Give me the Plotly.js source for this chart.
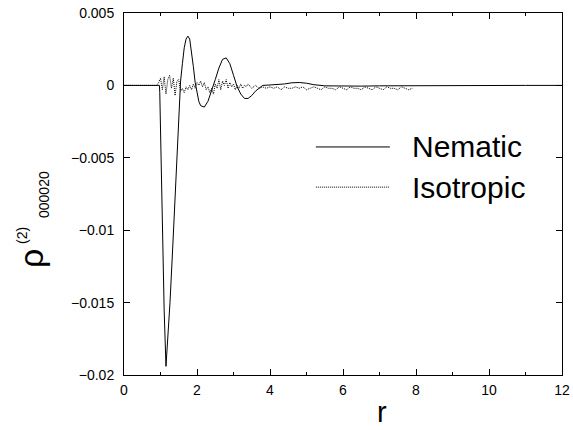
<!DOCTYPE html>
<html>
<head>
<meta charset="utf-8">
<script src="https://cdn.plot.ly/plotly-3.0.1.min.js"></script>
<style>
html,body{margin:0;padding:0;background:#fff;}
#chart{width:573px;height:430px;}
</style>
</head>
<body>
<div id="chart"></div>
<script>
// Nematic: r and rho^(2)_000020
const nematicR = [0, 0.5, 0.9, 0.95, 0.97, 0.98, 1.0, 1.05, 1.1, 1.15, 1.2, 1.26, 1.35, 1.45, 1.52, 1.55, 1.6, 1.65, 1.7, 1.75, 1.8, 1.85, 1.9, 1.95, 2.0, 2.05, 2.1, 2.2, 2.3, 2.4, 2.5, 2.6, 2.7, 2.8, 2.9, 3.0, 3.1, 3.2, 3.3, 3.4, 3.5, 3.6, 3.7, 3.8, 4.0, 4.2, 4.4, 4.6, 4.8, 5.0, 5.2, 5.5, 6.0, 6.5, 7.0, 8.0, 9.0, 10.0, 11.0, 12.0];
const nematicV = [0, 0, 0, 0, 0, -0.0005, -0.003, -0.0104, -0.0155, -0.0194, -0.0175, -0.015, -0.0104, -0.0045, -0.0012, 0.0003, 0.0015, 0.0026, 0.0032, 0.0034, 0.0032, 0.0024, 0.0013, 0.0002, -0.0006, -0.0011, -0.0014, -0.0015, -0.0011, -0.0004, 0.0004, 0.0012, 0.0018, 0.0019, 0.0015, 0.0007, -0.0001, -0.0006, -0.0009, -0.0009, -0.0007, -0.0004, -0.0002, 0.0, 0.00003, 0.00005, 0.0001, 0.00018, 0.0002, 0.00015, 0.00005, -0.00003, -0.00006, -0.00005, -0.00003, -0.00001, 0, 0, 0, 0];

// Isotropic
const isoR = [0, 0.5, 0.9, 0.95, 1.0, 1.05, 1.1, 1.15, 1.2, 1.25, 1.3, 1.35, 1.4, 1.45, 1.5, 1.55, 1.6, 1.65, 1.7, 1.75, 1.8, 1.85, 1.9, 1.95, 2.0, 2.05, 2.1, 2.15, 2.2, 2.25, 2.3, 2.35, 2.4, 2.45, 2.5, 2.55, 2.6, 2.65, 2.7, 2.75, 2.8, 2.85, 2.9, 2.95, 3.0, 3.05, 3.1, 3.15, 3.2, 3.25, 3.3, 3.35, 3.4, 3.5, 3.6, 3.7, 3.8, 3.9, 4.0, 4.1, 4.2, 4.3, 4.4, 4.5, 4.6, 4.7, 4.8, 4.9, 5.0, 5.1, 5.2, 5.3, 5.4, 5.5, 5.6, 5.7, 5.8, 5.9, 6.0, 6.1, 6.2, 6.3, 6.4, 6.5, 6.6, 6.7, 6.8, 6.9, 7.0, 7.1, 7.2, 7.3, 7.4, 7.5, 7.6, 7.7, 7.8, 7.9];
const isoV = [0, 0, 0, 0.0002, 0.0005, -0.0003, 0.0006, -0.0006, 0.0004, 0.0007, -0.0002, 0.0005, -0.0007, 0.0003, 0.0004, -0.0004, -0.0002, -0.0005, -0.0001, -0.0003, 0.0, -0.0003, 0.0001, -0.0002, 0.0002, 0.0, 0.0003, -0.0001, 0.0002, -0.0003, -0.0001, -0.0005, -0.0002, -0.0006, 0.0001, -0.0002, 0.0004, -0.0003, 0.0003, 0.0, 0.0004, -0.0002, 0.0002, -0.0001, 0.0001, -0.0003, 0.0, -0.0002, 0.0001, -0.0002, 0.0, -0.0001, 0.0001, -0.0002, 0.0, -0.0002, -0.0001, -0.0002, -0.0001, -0.0002, -0.0001, -0.0003, -0.0001, -0.0002, -0.0002, -0.0001, -0.0002, -0.0001, -0.0003, -0.0002, -0.0001, -0.0002, -0.0003, -0.0001, -0.0002, -0.0002, -0.0003, -0.0001, -0.0002, -0.0003, -0.0001, -0.0002, -0.0002, -0.0003, -0.0001, -0.0002, -0.0003, -0.0001, -0.0002, -0.0003, -0.0001, -0.0002, -0.0002, -0.0003, -0.0001, -0.0002, -0.0003, -0.0002];

const seriesNames = ['Nematic', 'Isotropic'];
const xLabel = 'r';

const FONT = 'Liberation Sans, Arial, Helvetica, sans-serif';

const traces = [
  {x: nematicR, y: nematicV, name: seriesNames[0], type: 'scatter', mode: 'lines',
   line: {color: '#000', width: 1}, showlegend: false},
  {x: isoR, y: isoV, name: seriesNames[1], type: 'scatter', mode: 'lines',
   line: {color: '#000', width: 1, dash: '1px,1px'}, showlegend: false}
];

const layout = {
  width: 573, height: 430,
  margin: {l: 124, r: 11, t: 13, b: 55},
  paper_bgcolor: '#fff', plot_bgcolor: '#fff',
  font: {family: FONT, color: '#000', size: 14},
  showlegend: false,
  xaxis: {
    range: [0, 12], dtick: 2, tick0: 0,
    ticks: 'inside', ticklen: 6, tickwidth: 1, tickcolor: '#000',
    minor: {dtick: 1, ticks: 'inside', ticklen: 3, tickcolor: '#000'},
    showline: true, linecolor: '#000', linewidth: 1, mirror: 'ticks',
    showgrid: false, zeroline: false,
    tickfont: {family: FONT, size: 14, color: '#000'},
    ticklabelstandoff: 2
  },
  yaxis: {
    range: [-0.02, 0.005], dtick: 0.005, tick0: 0,
    ticks: 'inside', ticklen: 6, tickwidth: 1, tickcolor: '#000',
    showline: true, linecolor: '#000', linewidth: 1, mirror: 'ticks',
    showgrid: false, zeroline: false,
    tickfont: {family: FONT, size: 14, color: '#000'},
    ticklabelstandoff: 6
  },
  shapes: [
    {type: 'line', xref: 'paper', yref: 'paper', x0: 0.438, x1: 0.607, y0: 0.630, y1: 0.630,
     line: {color: '#000', width: 1}},
    {type: 'line', xref: 'paper', yref: 'paper', x0: 0.438, x1: 0.607, y0: 0.519, y1: 0.519,
     line: {color: '#000', width: 1, dash: '1px,1px'}}
  ],
  annotations: [
    {text: seriesNames[0], xref: 'paper', yref: 'paper', x: 0.653, y: 0.630,
     xanchor: 'left', yanchor: 'middle', showarrow: false, font: {family: FONT, size: 30, color: '#000'}},
    {text: seriesNames[1], xref: 'paper', yref: 'paper', x: 0.653, y: 0.519,
     xanchor: 'left', yanchor: 'middle', showarrow: false, font: {family: FONT, size: 30, color: '#000'}},
    {text: xLabel, xref: 'paper', yref: 'paper', x: (382 - 124) / 438, y: (375 - 429) / 362,
     xanchor: 'center', yanchor: 'bottom', showarrow: false, borderpad: 0, font: {family: FONT, size: 29, color: '#000'}},
    {text: 'ρ', xref: 'paper', yref: 'paper', x: (31 - 124) / 438, y: (375 - 259) / 362,
     xanchor: 'center', yanchor: 'middle', textangle: -90, showarrow: false, font: {family: FONT, size: 34, color: '#000'}},
    {text: '(2)', xref: 'paper', yref: 'paper', x: (22 - 124) / 438, y: (375 - 236) / 362,
     xanchor: 'center', yanchor: 'middle', textangle: -90, showarrow: false, font: {family: FONT, size: 14, color: '#000'}},
    {text: '000020', xref: 'paper', yref: 'paper', x: (44 - 124) / 438, y: (375 - 195) / 362,
     xanchor: 'center', yanchor: 'middle', textangle: -90, showarrow: false, font: {family: FONT, size: 14, color: '#000'}}
  ]
};

Plotly.newPlot('chart', traces, layout, {displayModeBar: false, staticPlot: true});
</script>
</body>
</html>
